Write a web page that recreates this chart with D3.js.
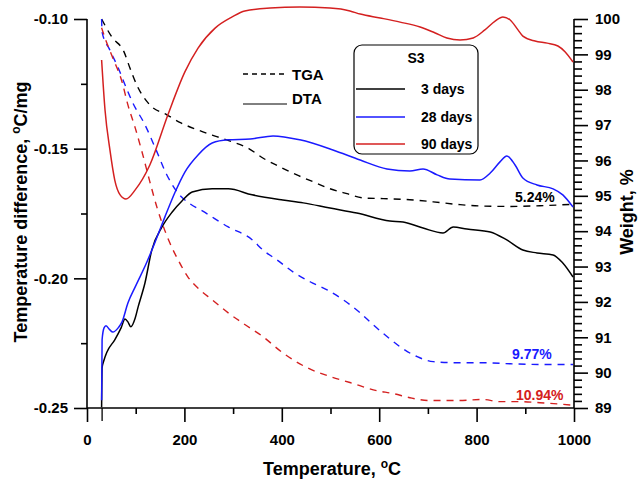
<!DOCTYPE html>
<html><head><meta charset="utf-8">
<script src="https://cdn.jsdelivr.net/npm/d3@7"></script>
<style>body{margin:0;background:#fff}svg{display:block;font-family:"Liberation Sans",Arial,sans-serif;font-weight:bold}</style>
</head><body><svg id="c" width="639" height="481"></svg>
<script>
// ---- data ----
const xTicks = [0, 200, 400, 600, 800, 1000];
const xMinor = [100, 300, 500, 700, 900];
const leftTicks = [-0.25, -0.20, -0.15, -0.10];
const leftMinor = [-0.225, -0.175, -0.125];
const rightTicks = [89, 90, 91, 92, 93, 94, 95, 96, 97, 98, 99, 100];
const seriesNames = ["3 days", "28 days", "90 days"];
const seriesColors = ["#000000", "#1a1aff", "#d42020"];
const lossLabels = ["5.24%", "9.77%", "10.94%"];

// DTA (deg C/mg) vs temperature
const dta3T = [30,31,35,41,57,70,78,84,90,99,105,119,133,154,175,195,216,257,290,339,402,444,499,554,622,649,690,731,752,780,828,862,895,924,957,977,998];
const dta3V = [-0.2497,-0.2345,-0.2315,-0.2284,-0.2237,-0.2191,-0.2157,-0.2168,-0.2187,-0.2153,-0.2110,-0.2018,-0.1891,-0.1802,-0.1744,-0.1702,-0.1667,-0.1655,-0.1655,-0.1678,-0.1698,-0.1709,-0.1729,-0.1748,-0.1779,-0.1783,-0.1806,-0.1825,-0.1802,-0.1810,-0.1821,-0.1852,-0.1891,-0.1902,-0.1910,-0.1941,-0.1995];
const dta28T = [30,31,35,39,47,53,64,72,84,99,123,144,160,181,201,228,257,290,335,382,437,505,561,616,663,690,719,745,807,828,848,862,879,895,924,957,977,998];
const dta28V = [-0.2470,-0.2237,-0.2191,-0.2183,-0.2199,-0.2207,-0.2191,-0.2168,-0.2095,-0.2033,-0.1937,-0.1840,-0.1763,-0.1667,-0.1590,-0.1524,-0.1478,-0.1466,-0.1463,-0.1451,-0.1466,-0.1505,-0.1544,-0.1578,-0.1586,-0.1578,-0.1601,-0.1617,-0.1621,-0.1594,-0.1551,-0.1528,-0.1563,-0.1613,-0.1640,-0.1655,-0.1678,-0.1725];
const dta90T = [30,37,47,57,68,80,99,129,166,201,228,263,298,324,376,437,499,540,561,602,643,684,715,739,766,793,817,838,854,869,885,895,920,945,967,982,998];
const dta90V = [-0.1158,-0.1351,-0.1504,-0.1621,-0.1678,-0.1694,-0.1659,-0.1563,-0.1370,-0.1204,-0.1112,-0.1035,-0.0992,-0.0969,-0.0958,-0.0954,-0.0958,-0.0969,-0.0981,-0.0996,-0.1012,-0.1031,-0.1054,-0.1073,-0.1081,-0.1073,-0.1042,-0.1008,-0.0992,-0.1004,-0.1042,-0.1066,-0.1085,-0.1093,-0.1104,-0.1127,-0.1166];

// TGA (weight %) vs temperature
const tga3T = [30,51,76,88,103,129,164,193,228,263,298,333,361,396,431,464,499,534,567,608,663,711,766,813,869,930,998];
const tga3W = [100.0,99.49,99.07,98.62,98.11,97.57,97.29,97.06,96.86,96.69,96.53,96.33,96.07,95.82,95.59,95.40,95.20,95.06,94.94,94.92,94.89,94.83,94.75,94.71,94.70,94.72,94.76];
const tga28T = [30,31,47,64,78,94,119,140,164,185,212,236,290,339,361,390,423,458,493,526,561,587,616,643,678,711,760,813,869,936,998];
const tga28W = [100.0,99.63,99.12,98.62,98.14,97.63,97.01,96.36,95.59,95.11,94.77,94.58,94.12,93.76,93.47,93.19,92.85,92.57,92.34,92.06,91.69,91.36,91.02,90.73,90.45,90.31,90.28,90.28,90.25,90.23,90.23];
const tga90T = [30,37,53,72,84,99,113,129,144,154,170,187,207,232,257,290,324,361,402,452,499,540,595,628,663,704,760,813,848,883,930,998];
const tga90W = [99.75,99.46,98.90,98.22,97.57,96.92,96.24,95.40,94.66,94.24,93.67,93.19,92.71,92.34,92.06,91.69,91.36,91.02,90.56,90.14,89.89,89.72,89.49,89.41,89.29,89.21,89.21,89.24,89.18,89.18,89.15,89.08];

// ---- drawing ----
const svg = d3.select("#c");
const X0 = 87, X1 = 574, Y0 = 408, Y1 = 19;
const x = d3.scaleLinear().domain([0, 1000]).range([X0, X1]);
const yL = d3.scaleLinear().domain([-0.25, -0.10]).range([Y0, Y1]);
const yR = d3.scaleLinear().domain([89, 100]).range([Y0, Y1]);

const axStroke = 1.6;
function styleAxis(g, fs){
  g.select(".domain").remove();
  g.selectAll(".tick line").attr("stroke", "#000").attr("stroke-width", axStroke);
  g.selectAll(".tick text").attr("fill", "#000").style("font-size", fs + "px").style("font-weight", "bold")
   .style("font-family", '"Liberation Sans",Arial,sans-serif');
}
// x axis
const gx = svg.append("g").attr("transform", `translate(0,${Y0})`)
  .call(d3.axisBottom(x).tickValues(xTicks).tickSize(14).tickPadding(12).tickFormat(d3.format("d")));
styleAxis(gx, 15);
const gxm = svg.append("g").attr("transform", `translate(0,${Y0})`)
  .call(d3.axisBottom(x).tickValues(xMinor.concat([30])).tickSize(6).tickFormat(""));
styleAxis(gxm, 15);
gxm.selectAll(".tick").filter(d => d === 30).select("line").attr("y2", 13).attr("stroke-width", 1.3);
// left axis
const gl = svg.append("g").attr("transform", `translate(${X0},0)`)
  .call(d3.axisLeft(yL).tickValues(leftTicks).tickSize(13).tickPadding(6).tickFormat(d3.format(".2f")));
styleAxis(gl, 15);
gl.selectAll(".tick text").text(d => d3.format(".2f")(d).replace("−", "-"));
const glm = svg.append("g").attr("transform", `translate(${X0},0)`)
  .call(d3.axisLeft(yL).tickValues(leftMinor).tickSize(6).tickFormat(""));
styleAxis(glm, 15);
// right axis
const rightMinor = d3.range(89, 100.001, 0.2).filter(v => Math.abs(v - Math.round(v)) > 0.01);
const gr = svg.append("g").attr("transform", `translate(${X1},0)`)
  .call(d3.axisRight(yR).tickValues(rightTicks).tickSize(14).tickPadding(7).tickFormat(d3.format("d")));
styleAxis(gr, 15);
const grm = svg.append("g").attr("transform", `translate(${X1},0)`)
  .call(d3.axisRight(yR).tickValues(rightMinor).tickSize(8).tickFormat(""));
styleAxis(grm, 15);
// axis lines
svg.append("line").attr("x1", X0).attr("x2", X0).attr("y1", Y1).attr("y2", Y0).attr("stroke", "#000").attr("stroke-width", axStroke);
svg.append("line").attr("x1", X0).attr("x2", X1).attr("y1", Y0).attr("y2", Y0).attr("stroke", "#000").attr("stroke-width", axStroke);
svg.append("line").attr("x1", X1).attr("x2", X1).attr("y1", Y1).attr("y2", Y0).attr("stroke", "#000").attr("stroke-width", axStroke);

// curves
const lineL = d3.line().x(d => x(d[0])).y(d => yL(d[1])).curve(d3.curveMonotoneX);
const lineR = d3.line().x(d => x(d[0])).y(d => yR(d[1])).curve(d3.curveMonotoneX);
const zip = (a, b) => a.map((v, i) => [v, b[i]]);
const tga = [zip(tga3T, tga3W), zip(tga28T, tga28W), zip(tga90T, tga90W)];
const dta = [zip(dta3T, dta3V), zip(dta28T, dta28V), zip(dta90T, dta90V)];
tga.forEach((s, i) => svg.append("path").attr("d", lineR(s)).attr("fill", "none")
  .attr("stroke", seriesColors[i]).attr("stroke-width", 1.4).attr("stroke-dasharray", "7,6"));
dta.forEach((s, i) => svg.append("path").attr("d", lineL(s)).attr("fill", "none")
  .attr("stroke", seriesColors[i]).attr("stroke-width", 1.5));

// loss labels
const lossPos = [[515, 202], [512, 359], [516, 400]];
lossLabels.forEach((t, i) => svg.append("text").attr("x", lossPos[i][0]).attr("y", lossPos[i][1])
  .attr("fill", seriesColors[i]).style("font-size", "14px").text(t));

// TGA / DTA key
svg.append("line").attr("x1", 243).attr("x2", 287).attr("y1", 74).attr("y2", 74)
  .attr("stroke", "#000").attr("stroke-width", 1.4).attr("stroke-dasharray", "5,4");
svg.append("text").attr("x", 292).attr("y", 79.5).style("font-size", "15px").text("TGA");
svg.append("line").attr("x1", 243).attr("x2", 287).attr("y1", 104).attr("y2", 104)
  .attr("stroke", "#000").attr("stroke-width", 1);
svg.append("text").attr("x", 292).attr("y", 103.5).style("font-size", "15px").text("DTA");

// legend box
svg.append("rect").attr("x", 354).attr("y", 45).attr("width", 124).attr("height", 109).attr("rx", 8)
  .attr("fill", "#fff").attr("stroke", "#000").attr("stroke-width", 1.2);
svg.append("text").attr("x", 416).attr("y", 63).attr("text-anchor", "middle").style("font-size", "14px").text("S3");
const legY = [89, 117, 144];
seriesNames.forEach((n, i) => {
  svg.append("line").attr("x1", 356).attr("x2", 405).attr("y1", legY[i]).attr("y2", legY[i])
    .attr("stroke", seriesColors[i]).attr("stroke-width", 1.4);
  svg.append("text").attr("x", 421).attr("y", legY[i] + 5).style("font-size", "14px").text(n);
});

// axis titles
const xt = svg.append("text").attr("x", 332).attr("y", 475).attr("text-anchor", "middle").style("font-size", "18px");
xt.append("tspan").text("Temperature, ");
xt.append("tspan").attr("dy", -7).style("font-size", "12px").text("o");
xt.append("tspan").attr("dy", 7).text("C");
const yt = svg.append("text").attr("transform", "translate(27,212) rotate(-90)").attr("text-anchor", "middle").style("font-size", "18px");
yt.append("tspan").text("Temperature difference, ");
yt.append("tspan").attr("dy", -7).style("font-size", "12px").text("o");
yt.append("tspan").attr("dy", 7).text("C/mg");
svg.append("text").attr("transform", "translate(633,212) rotate(-90)").attr("text-anchor", "middle")
  .style("font-size", "18px").text("Weight, %");
</script></body></html>
